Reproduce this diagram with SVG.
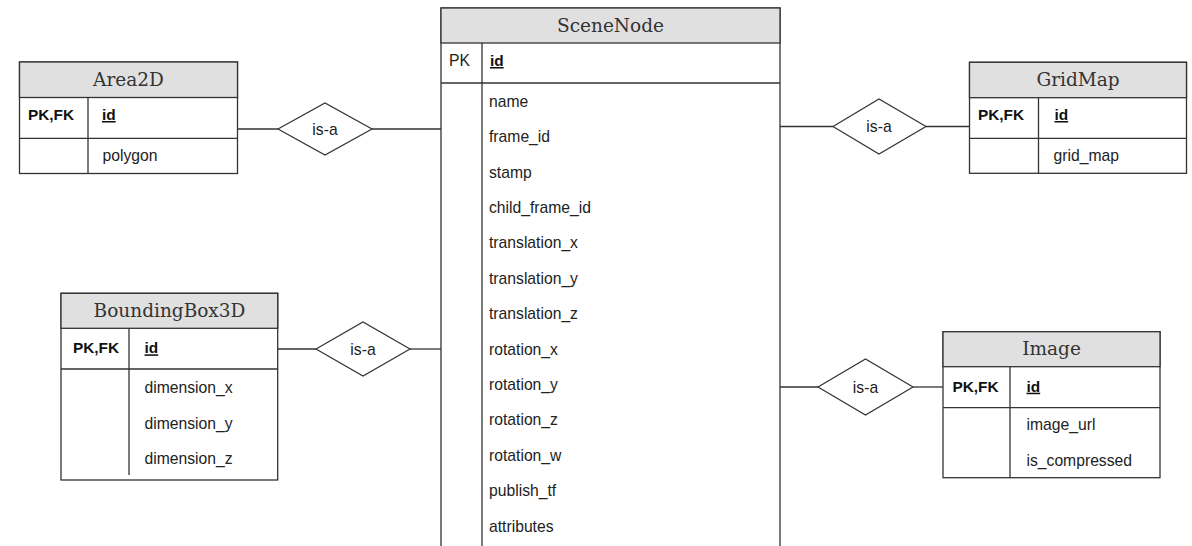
<svg xmlns="http://www.w3.org/2000/svg" width="1192" height="546" viewBox="0 0 1192 546">
<style>
.box{fill:#ffffff;stroke:#333333;stroke-width:1.3}
.hdr{fill:#e0e0e0;stroke:#333333;stroke-width:1.3}
.ln{fill:none;stroke:#333333;stroke-width:1.3}
.dia{fill:#ffffff;stroke:#333333;stroke-width:1.2}
.ht{font-family:"DejaVu Serif",serif;font-size:18.5px;fill:#333333;text-anchor:middle}
.t{font-family:"Liberation Sans",Arial,sans-serif;font-size:15.7px;fill:#222222}
.k{font-family:"Liberation Sans",Arial,sans-serif;font-size:15.4px;fill:#111111;font-weight:bold}
.u{text-decoration:underline}
.c{text-anchor:middle}
</style>
<rect width="1192" height="546" fill="#ffffff"/>
<g id="connectors">
<line class="ln" x1="238" y1="129" x2="278" y2="129"/>
<line class="ln" x1="372" y1="129" x2="441" y2="129"/>
<line class="ln" x1="780" y1="126.5" x2="833" y2="126.5"/>
<line class="ln" x1="926" y1="126.5" x2="969" y2="126.5"/>
<line class="ln" x1="278" y1="349" x2="316" y2="349"/>
<line class="ln" x1="410" y1="349" x2="441" y2="349"/>
<line class="ln" x1="780" y1="387" x2="818" y2="387"/>
<line class="ln" x1="913" y1="387" x2="943" y2="387"/>
</g>
<g id="isa-area2d">
<polygon class="dia" points="278,129 325,103 372,129 325,155"/>
<text class="t c" x="325" y="134.5">is-a</text>
</g>
<g id="isa-gridmap">
<polygon class="dia" points="833,126.5 879,99 926,126.5 879,154"/>
<text class="t c" x="879" y="132">is-a</text>
</g>
<g id="isa-bbox">
<polygon class="dia" points="316,349 363,322 410,349 363,376"/>
<text class="t c" x="363" y="354.5">is-a</text>
</g>
<g id="isa-image">
<polygon class="dia" points="818,387 865.5,359 913,387 865.5,415"/>
<text class="t c" x="865.5" y="392.5">is-a</text>
</g>
<g id="SceneNode">
<rect class="box" x="441" y="8" width="339" height="560"/>
<rect class="hdr" x="441" y="8" width="339" height="35"/>
<text class="ht" x="610.5" y="31.5">SceneNode</text>
<line class="ln" x1="441" y1="83" x2="780" y2="83"/>
<line class="ln" x1="482" y1="43" x2="482" y2="546"/>
<text class="t" x="449" y="66">PK</text>
<text class="k u" x="490" y="66">id</text>
<text class="t" x="489" y="106.7">name</text>
<text class="t" x="489" y="142.1">frame_id</text>
<text class="t" x="489" y="177.5">stamp</text>
<text class="t" x="489" y="212.9">child_frame_id</text>
<text class="t" x="489" y="248.3">translation_x</text>
<text class="t" x="489" y="283.7">translation_y</text>
<text class="t" x="489" y="319.1">translation_z</text>
<text class="t" x="489" y="354.5">rotation_x</text>
<text class="t" x="489" y="389.9">rotation_y</text>
<text class="t" x="489" y="425.3">rotation_z</text>
<text class="t" x="489" y="460.7">rotation_w</text>
<text class="t" x="489" y="496.1">publish_tf</text>
<text class="t" x="489" y="531.5">attributes</text>
</g>
<g id="Area2D">
<rect class="box" x="19.5" y="62" width="218" height="111.5"/>
<rect class="hdr" x="19.5" y="62" width="218" height="35.5"/>
<text class="ht" x="128.5" y="85.5">Area2D</text>
<line class="ln" x1="19.5" y1="138.3" x2="237.5" y2="138.3"/>
<line class="ln" x1="88" y1="97.5" x2="88" y2="173.5"/>
<text class="k c" x="51" y="120">PK,FK</text>
<text class="k u" x="102" y="120">id</text>
<text class="t" x="102.5" y="161">polygon</text>
</g>
<g id="GridMap">
<rect class="box" x="969.5" y="62.3" width="217" height="111"/>
<rect class="hdr" x="969.5" y="62.3" width="217" height="35.4"/>
<text class="ht" x="1078" y="85.5">GridMap</text>
<line class="ln" x1="969.5" y1="138.3" x2="1186.5" y2="138.3"/>
<line class="ln" x1="1038.5" y1="97.7" x2="1038.5" y2="173.3"/>
<text class="k c" x="1001" y="120">PK,FK</text>
<text class="k u" x="1054.5" y="120">id</text>
<text class="t" x="1053.5" y="161">grid_map</text>
</g>
<g id="BoundingBox3D">
<rect class="box" x="61" y="293.3" width="216.7" height="186.7"/>
<rect class="hdr" x="61" y="293.3" width="216.7" height="35"/>
<text class="ht" x="169.5" y="317">BoundingBox3D</text>
<line class="ln" x1="61" y1="369" x2="277.7" y2="369"/>
<line class="ln" x1="129" y1="328.3" x2="129" y2="369"/>
<line class="ln" x1="129" y1="369" x2="129" y2="475"/>
<text class="k c" x="96" y="353.3">PK,FK</text>
<text class="k u" x="144.5" y="353.3">id</text>
<text class="t" x="144.5" y="393.3">dimension_x</text>
<text class="t" x="144.5" y="428.5">dimension_y</text>
<text class="t" x="144.5" y="463.7">dimension_z</text>
</g>
<g id="Image">
<rect class="box" x="943" y="331.7" width="217" height="146"/>
<rect class="hdr" x="943" y="331.7" width="217" height="35"/>
<text class="ht" x="1051.5" y="355">Image</text>
<line class="ln" x1="943" y1="407.7" x2="1160" y2="407.7"/>
<line class="ln" x1="1010" y1="366.7" x2="1010" y2="477.7"/>
<text class="k c" x="975.5" y="391.7">PK,FK</text>
<text class="k u" x="1026.5" y="391.7">id</text>
<text class="t" x="1026.5" y="430">image_url</text>
<text class="t" x="1026.5" y="466">is_compressed</text>
</g>
</svg>
